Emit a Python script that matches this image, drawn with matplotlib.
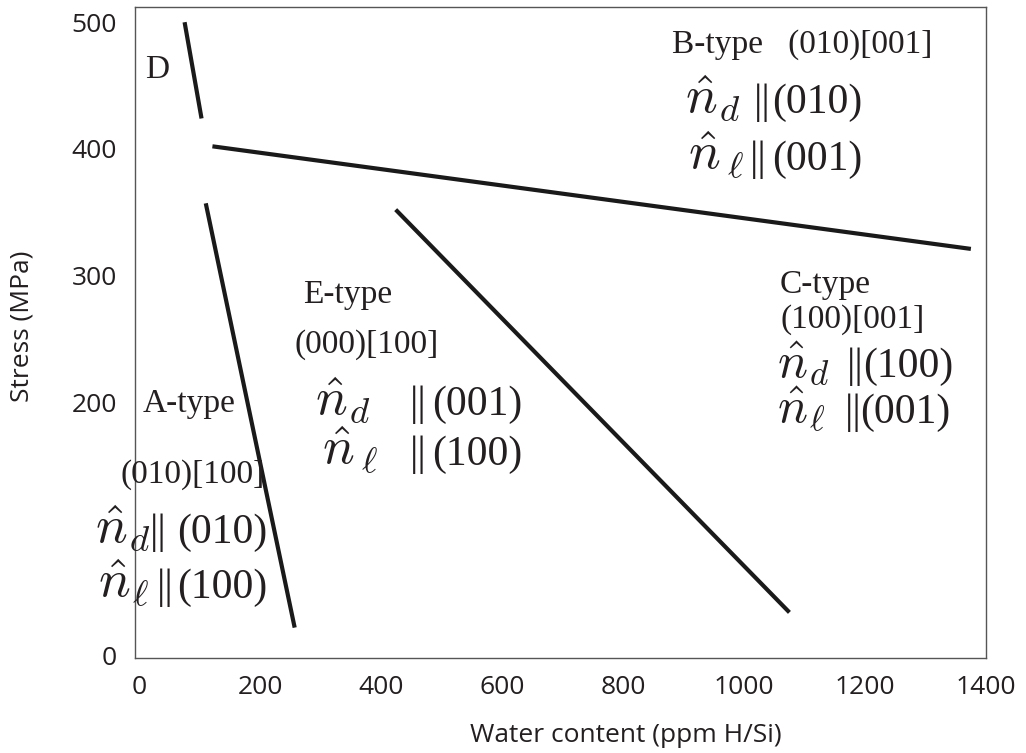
import matplotlib
matplotlib.use("Agg")
import matplotlib.pyplot as plt

# line segments (water content ppm H/Si, stress MPa)
d_x = [75, 103]
d_y = [500, 424]
b_x = [121, 1375]
b_y = [402, 321]
a_x = [110, 257]
a_y = [357, 22]
c_x = [424, 1075]
c_y = [352, 34]

x_ticks = [0, 200, 400, 600, 800, 1000, 1200, 1400]
y_ticks = [0, 200, 300, 400, 500]

W, H = 1026, 753
ink = "#231f20"
serif = "Liberation Serif"
plt.rcParams["mathtext.fontset"] = "cm"

fig = plt.figure(figsize=(W / 100, H / 100), dpi=100)
ax = fig.add_axes([135 / W, 1 - 658 / H, (986 - 135) / W, (658 - 7) / H])

for xs, ys in [(d_x, d_y), (b_x, b_y), (a_x, a_y), (c_x, c_y)]:
    ax.plot(xs, ys, color="#1a1a1a", lw=3, solid_capstyle="butt")

ax.set_xlim(-7, 1398)
ax.set_ylim(-2, 512)
ax.set_xticks(x_ticks)
ax.set_yticks(y_ticks)
ax.tick_params(length=0, labelsize=19, labelcolor=ink)
ax.tick_params(axis="x", pad=12)
ax.tick_params(axis="y", pad=13)
for lab in ax.get_xticklabels() + ax.get_yticklabels():
    lab.set_family("Open Sans")
for s in ax.spines.values():
    s.set_color("#555555")
    s.set_linewidth(1)


def ptext(px, py, s, size, **kw):
    # place text by pixel position (baseline)
    fig.text(px / W, 1 - py / H, s, fontsize=size, color=ink,
             va="baseline", **kw)


def nline(nx, bx, px, py, sub, plane, msize=38):
    ptext(nx, py, r"$\hat{n}_{%s}$" % sub, msize)
    ptext(bx - 3, py, "||", 30, family=serif)
    ptext(px, py, plane, 30, family=serif)


# axis titles
fig.text(626 / W, 1 - 736 / H, "Water content (ppm H/Si)", fontsize=19,
         family="Open Sans", color=ink, ha="center", va="center")
fig.text(22 / W, 1 - 326 / H, "Stress (MPa)", fontsize=19, rotation=90,
         family="Open Sans", color=ink, ha="center", va="center")

# D
ptext(145, 78, "D", 24, family=serif)

# B-type
ptext(672, 53, "B-type   (010)[001]", 24, family=serif)
nline(685, 757, 772, 113, "d", "(010)")
nline(688, 753, 772, 170, r"\,\ell", "(001)")

# E-type
ptext(303, 303, "E-type", 24, family=serif)
ptext(295, 353, "(000)[100]", 24, family=serif)
nline(315, 413, 432, 415, "d", "(001)")
nline(322, 413, 432, 465, r"\,\ell", "(100)")

# C-type
ptext(780, 293, "C-type", 24, family=serif)
ptext(780, 328, "(100)[001]", 24, family=serif)
nline(777, 850, 863, 377, "d", "(100)", 36)
nline(777, 848, 860, 423, r"\ell", "(001)", 36)

# A-type
ptext(143, 412, "A-type", 24, family=serif)
ptext(120, 483, "(010)[100]", 24, family=serif)
nline(95, 153, 177, 543, "d", "(010)")
nline(98, 160, 177, 598, r"\ell", "(100)")

fig.savefig("out.png", dpi=100)
